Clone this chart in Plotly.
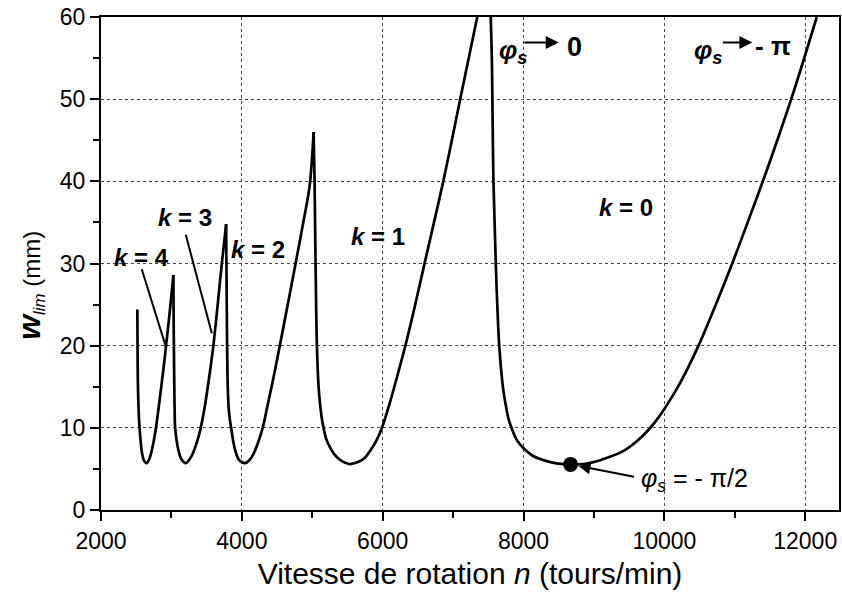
import plotly.graph_objects as go

# ---- data (speed n in tr/min, w_lim in mm) ----
k4_n = [2516, 2519, 2525, 2540, 2548, 2565, 2585, 2612, 2650, 2690, 2725, 2755, 2782, 2815,
        2853, 2890, 2924, 2981, 3028]
k4_w = [24.4, 20.0, 15.0, 11.0, 10.0, 8.2, 6.8, 6.0, 5.7, 6.3, 7.4, 8.7, 10.1, 12.2,
        14.8, 17.4, 20.0, 24.5, 28.6]

k3_n = [3028, 3031, 3035, 3041, 3048, 3053, 3075, 3099, 3140, 3204, 3260, 3310, 3360, 3400,
        3440, 3480, 3520, 3560, 3600, 3656, 3716, 3777]
k3_w = [28.6, 24.0, 20.0, 15.0, 11.0, 10.0, 8.4, 7.3, 6.2, 5.7, 6.2, 7.0, 8.2, 9.4,
        11.0, 12.9, 15.2, 17.6, 20.3, 24.9, 30.0, 34.8]

k2_n = [3777, 3781, 3786, 3791, 3800, 3812, 3830, 3848, 3875, 3905, 3960, 4047, 4110, 4170,
        4230, 4296, 4360, 4430, 4500, 4580, 4670, 4770, 4870, 4962, 5019]
k2_w = [34.8, 30.0, 25.0, 20.0, 15.0, 12.5, 11.0, 10.0, 8.5, 7.3, 6.1, 5.7, 6.1, 6.9,
        8.2, 10.0, 12.5, 15.3, 18.3, 21.8, 25.8, 30.3, 34.9, 39.4, 46.0]

k1_n = [5019, 5026, 5033, 5047, 5066, 5090, 5130, 5160, 5200, 5260, 5320, 5410, 5523, 5640,
        5740, 5830, 5909, 5990, 6100, 6220, 6340, 6470, 6600, 6868, 7106, 7343]
k1_w = [46.0, 43.0, 40.0, 30.0, 20.0, 15.0, 11.5, 10.0, 8.6, 7.5, 6.7, 6.0, 5.6, 5.8,
        6.3, 7.3, 8.4, 10.0, 13.0, 16.7, 20.6, 25.3, 30.2, 40.3, 50.2, 60.0]

k0_n = [7534, 7550, 7558, 7573, 7606, 7655, 7700, 7727, 7790, 7830, 7900, 7990, 8130, 8272,
        8450, 8668, 8850, 8979, 9200, 9403, 9600, 9780, 9920, 10060, 10200, 10340, 10490,
        10740, 10986, 11200, 11415, 11620, 11813, 11990, 12164]
k0_w = [60.0, 55.0, 50.0, 40.0, 30.0, 20.0, 15.5, 13.8, 11.0, 10.0, 8.6, 7.6, 6.6, 6.1,
        5.7, 5.55, 5.6, 5.8, 6.4, 7.1, 8.3, 9.8, 11.3, 13.1, 15.1, 17.4, 20.1,
        25.2, 30.5, 35.4, 40.4, 45.4, 50.3, 55.1, 60.0]

point_n = [8668]
point_w = [5.55]

lobe_labels = ["k = 4", "k = 3", "k = 2", "k = 1", "k = 0"]
label_n = [2569, 3194, 4232, 5937, 9455]
label_w = [30.7, 35.6, 31.7, 33.3, 36.8]

x_ticks = [2000, 4000, 6000, 8000, 10000, 12000]
y_ticks = [0, 10, 20, 30, 40, 50, 60]

FONT = "Liberation Sans, Arial, Helvetica, sans-serif"

fig = go.Figure()
for xs, ys in [(k4_n, k4_w), (k3_n, k3_w), (k2_n, k2_w), (k1_n, k1_w), (k0_n, k0_w)]:
    fig.add_trace(go.Scatter(x=xs, y=ys, mode="lines",
                             line=dict(color="black", width=2.7, shape="spline", smoothing=1.0),
                             showlegend=False, hoverinfo="skip"))

fig.add_trace(go.Scatter(x=point_n, y=point_w, mode="markers",
                         marker=dict(color="black", size=15), showlegend=False))

annotations = []
for t, xn, yw in zip(lobe_labels, label_n, label_w):
    k, rest = t.split(" ", 1)
    annotations.append(dict(x=xn, y=yw, xref="x", yref="y", showarrow=False,
                            text="<b><i>%s</i> %s</b>" % (k, rest),
                            font=dict(family=FONT, size=24, color="black")))

PHI = "<b><i>φ</i></b><sub><b><i>s</i></b></sub>"
# phi_s -> 0
annotations.append(dict(x=7846, y=55.8, xref="x", yref="y", showarrow=False,
                        text=PHI, font=dict(family=FONT, size=26, color="black")))
annotations.append(dict(x=8720, y=56.4, xref="x", yref="y", showarrow=False,
                        text="<b>0</b>", font=dict(family=FONT, size=27, color="black")))
annotations.append(dict(x=8500, y=56.9, ax=7990, ay=56.9, xref="x", yref="y",
                        axref="x", ayref="y", text="", showarrow=True,
                        arrowhead=2, arrowsize=1.3, arrowwidth=2, arrowcolor="black"))
# phi_s -> -pi
annotations.append(dict(x=10623, y=55.8, xref="x", yref="y", showarrow=False,
                        text=PHI, font=dict(family=FONT, size=26, color="black")))
annotations.append(dict(x=11540, y=56.5, xref="x", yref="y", showarrow=False,
                        text="<b>- π</b>", font=dict(family=FONT, size=26, color="black")))
annotations.append(dict(x=11250, y=56.9, ax=10810, ay=56.9, xref="x", yref="y",
                        axref="x", ayref="y", text="", showarrow=True,
                        arrowhead=2, arrowsize=1.3, arrowwidth=2, arrowcolor="black"))
# phi_s = -pi/2
annotations.append(dict(x=9640, y=3.7, xref="x", yref="y", showarrow=False, xanchor="left",
                        text="<i>φ</i><sub><i>s</i></sub> = - π/2",
                        font=dict(family=FONT, size=25, color="black")))
annotations.append(dict(x=point_n[0], y=point_w[0], ax=9590, ay=4.0, xref="x", yref="y",
                        axref="x", ayref="y", text="", showarrow=True, standoff=8,
                        arrowhead=2, arrowsize=1.2, arrowwidth=2, arrowcolor="black"))
# y-axis title
annotations.append(dict(x=-0.096, y=0.455, xref="paper", yref="paper", showarrow=False,
                        textangle=-90, xanchor="center", yanchor="middle",
                        text="<b><i><span style='font-size:32px'>w</span></i></b>"
                             "<sub><i>lim</i></sub> (mm)",
                        font=dict(family=FONT, size=24, color="black")))

shapes = [
    dict(type="line", xref="x", yref="y", x0=2579, y0=29.3, x1=2920, y1=19.9,
         line=dict(color="black", width=2)),
    dict(type="line", xref="x", yref="y", x0=3204, y0=33.5, x1=3574, y1=21.5,
         line=dict(color="black", width=2)),
]

fig.update_layout(
    width=842, height=597,
    margin=dict(l=101, r=3, t=17, b=87),
    plot_bgcolor="white", paper_bgcolor="white",
    annotations=annotations, shapes=shapes,
    font=dict(family=FONT, color="black"),
)

fig.update_xaxes(
    range=[2000, 12480], tickvals=x_ticks, ticktext=[str(v) for v in x_ticks],
    automargin=False,
    showgrid=True, gridcolor="#444", griddash="dot", gridwidth=1,
    showline=True, mirror=True, linecolor="black", linewidth=2,
    ticks="outside", ticklen=9, tickwidth=2, tickcolor="black",
    minor=dict(tickvals=[3000, 5000, 7000, 9000, 11000], ticks="outside", ticklen=6,
               tickwidth=2, tickcolor="black", showgrid=False),
    tickfont=dict(family=FONT, size=23, color="black"),
    title=dict(text="Vitesse de rotation <i>n</i> (tours/min)",
               font=dict(family=FONT, size=30, color="black"), standoff=10),
    zeroline=False,
)
fig.update_yaxes(
    range=[0, 60], tickvals=y_ticks, ticktext=[str(v) for v in y_ticks],
    automargin=False,
    showgrid=True, gridcolor="#444", griddash="dot", gridwidth=1,
    showline=True, mirror=True, linecolor="black", linewidth=2,
    ticks="outside", ticklen=9, tickwidth=2, tickcolor="black",
    minor=dict(tickvals=[5, 15, 25, 35, 45, 55], ticks="outside", ticklen=6,
               tickwidth=2, tickcolor="black", showgrid=False),
    tickfont=dict(family=FONT, size=23, color="black"),
    zeroline=False,
)

fig.write_html("out.html",
               config={"displayModeBar": False},
               post_script="document.body.style.margin='0';"
                           "document.body.style.overflow='hidden';")
